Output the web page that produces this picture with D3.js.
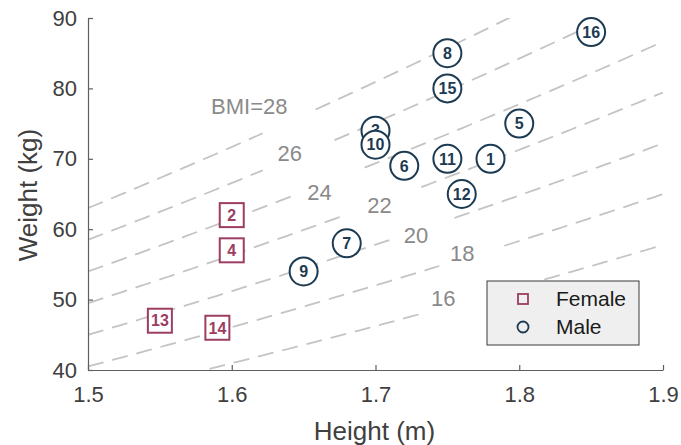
<!DOCTYPE html>
<html>
<head>
<meta charset="utf-8">
<script src="https://cdn.jsdelivr.net/npm/d3@7/dist/d3.min.js"></script>
<style>
  html, body { margin: 0; padding: 0; background: #fff; }
  svg { display: block; font-family: "Liberation Sans", Arial, Helvetica, sans-serif; }
</style>
</head>
<body>
<svg id="chart" width="681" height="445"></svg>
<script>
// Survey participants: height (m) and weight (kg)
const maleIds     = [1, 3, 5, 6, 7, 8, 9, 10, 11, 12, 15, 16];
const maleHeight  = [1.78, 1.70, 1.80, 1.72, 1.68, 1.75, 1.65, 1.70, 1.75, 1.76, 1.75, 1.85];
const maleWeight  = [70, 74, 75, 69, 58, 85, 54, 72, 70, 65, 80, 88];

const femaleIds    = [2, 4, 13, 14];
const femaleHeight = [1.60, 1.60, 1.55, 1.59];
const femaleWeight = [62, 57, 47, 46];

// BMI reference curves (weight = BMI * height^2)
const bmiValues = [16, 18, 20, 22, 24, 26, 28];
const bmiLabels = ["16", "18", "20", "22", "24", "26", "BMI=28"];

// Axis ticks
const xTicks = [1.5, 1.6, 1.7, 1.8, 1.9];
const yTicks = [40, 50, 60, 70, 80, 90];

// Inline label placement for each curve: label anchor and the break in the curve (heights)
const labelAt  = [[1.7472, 50.2], [1.7604, 56.6], [1.7281, 59.2], [1.7028, 63.4], [1.6611, 65.3], [1.6403, 70.8], [1.6122, 77.4]];
const breakAt  = [[1.7306, 1.8174], [1.7444, 1.7896], [1.7111, 1.7549], [1.6806, 1.7319], [1.6451, 1.6924], [1.6215, 1.6715], [1.6215, 1.6583]];

const svg = d3.select("#chart");
const plotL = 88, plotR = 663, plotT = 18, plotB = 370;

const x = d3.scaleLinear().domain([1.5, 1.9]).range([plotL, plotR]);
const y = d3.scaleLinear().domain([40, 90]).range([plotB, plotT]);

svg.append("defs").append("clipPath").attr("id", "plotClip")
  .append("rect").attr("x", plotL).attr("y", plotT)
  .attr("width", plotR - plotL).attr("height", plotB - plotT);

// BMI curves
const curveLayer = svg.append("g").attr("clip-path", "url(#plotClip)");
const line = d3.line().x(d => x(d[0])).y(d => y(d[1]));

bmiValues.forEach((bmi, i) => {
  const [g0, g1] = breakAt[i];
  const pieces = [[1.5, g0], [g1, 1.9]];
  pieces.forEach(([h0, h1]) => {
    const pts = d3.range(0, 41).map(k => {
      const h = h0 + (h1 - h0) * k / 40;
      return [h, bmi * h * h];
    });
    curveLayer.append("path")
      .attr("d", line(pts))
      .attr("fill", "none")
      .attr("stroke", "#c4c4c4")
      .attr("stroke-width", 1.8)
      .attr("stroke-dasharray", "16,9");
  });
  svg.append("text")
    .attr("x", x(labelAt[i][0]))
    .attr("y", y(labelAt[i][1]))
    .attr("dy", "0.35em")
    .attr("text-anchor", "middle")
    .attr("font-size", 22)
    .attr("fill", "#8a8a8a")
    .text(bmiLabels[i]);
});

// Axes
const xAxis = d3.axisBottom(x).tickValues(xTicks).tickFormat(d3.format(".1f"))
  .tickSizeInner(-5).tickSizeOuter(0).tickPadding(16);
const yAxis = d3.axisLeft(y).tickValues(yTicks).tickFormat(d3.format("d"))
  .tickSizeInner(-5).tickSizeOuter(0).tickPadding(11);

const gx = svg.append("g").attr("transform", `translate(0,${plotB})`).call(xAxis);
const gy = svg.append("g").attr("transform", `translate(${plotL},0)`).call(yAxis);
[gx, gy].forEach(g => {
  g.select(".domain").attr("stroke", "#5e5e5e").attr("stroke-width", 1.2);
  g.selectAll(".tick line").attr("stroke", "#5e5e5e").attr("stroke-width", 1.2);
  g.selectAll(".tick text").attr("fill", "#404040").attr("font-size", 22)
    .attr("font-family", "Liberation Sans, Arial, sans-serif");
});

// Axis titles
svg.append("text")
  .attr("x", (plotL + plotR) / 2 - 1).attr("y", 440)
  .attr("text-anchor", "middle").attr("font-size", 26).attr("fill", "#404040")
  .text("Height (m)");
svg.append("text")
  .attr("transform", "translate(37,195) rotate(-90)")
  .attr("text-anchor", "middle").attr("font-size", 26).attr("fill", "#404040")
  .text("Weight (kg)");

// Markers
const femaleColor = "#9c3d62";
const maleColor = "#1c3b52";

const females = femaleIds.map((id, i) => ({ id, h: femaleHeight[i], w: femaleWeight[i] }));
const males = maleIds.map((id, i) => ({ id, h: maleHeight[i], w: maleWeight[i] }));

const fG = svg.append("g").selectAll("g").data(females).join("g")
  .attr("transform", d => `translate(${x(d.h)},${y(d.w)})`);
fG.append("rect").attr("x", -12).attr("y", -12).attr("width", 24).attr("height", 24)
  .attr("fill", "#fff").attr("stroke", femaleColor).attr("stroke-width", 2);
fG.append("text").attr("text-anchor", "middle").attr("dy", "0.36em")
  .attr("font-size", 16).attr("font-weight", "bold").attr("fill", femaleColor)
  .text(d => d.id);

const mG = svg.append("g").selectAll("g").data(males).join("g")
  .attr("transform", d => `translate(${x(d.h)},${y(d.w)})`);
mG.append("circle").attr("r", 14)
  .attr("fill", "#fff").attr("stroke", maleColor).attr("stroke-width", 2);
mG.append("text").attr("text-anchor", "middle").attr("dy", "0.36em")
  .attr("font-size", 16).attr("font-weight", "bold").attr("fill", maleColor)
  .text(d => d.id);

// Legend
const lg = svg.append("g").attr("transform", "translate(487,281)");
lg.append("rect").attr("width", 152).attr("height", 64)
  .attr("fill", "#efefef").attr("stroke", "#3a3a3a").attr("stroke-width", 1);
lg.append("rect").attr("x", 31).attr("y", 13).attr("width", 10).attr("height", 10)
  .attr("fill", "none").attr("stroke", femaleColor).attr("stroke-width", 1.8);
lg.append("circle").attr("cx", 36).attr("cy", 46).attr("r", 5.5)
  .attr("fill", "none").attr("stroke", maleColor).attr("stroke-width", 1.8);
lg.append("text").attr("x", 69).attr("y", 18).attr("dy", "0.35em")
  .attr("font-size", 21).attr("fill", "#1a1a1a").text("Female");
lg.append("text").attr("x", 69).attr("y", 46).attr("dy", "0.35em")
  .attr("font-size", 21).attr("fill", "#1a1a1a").text("Male");
</script>
</body>
</html>
